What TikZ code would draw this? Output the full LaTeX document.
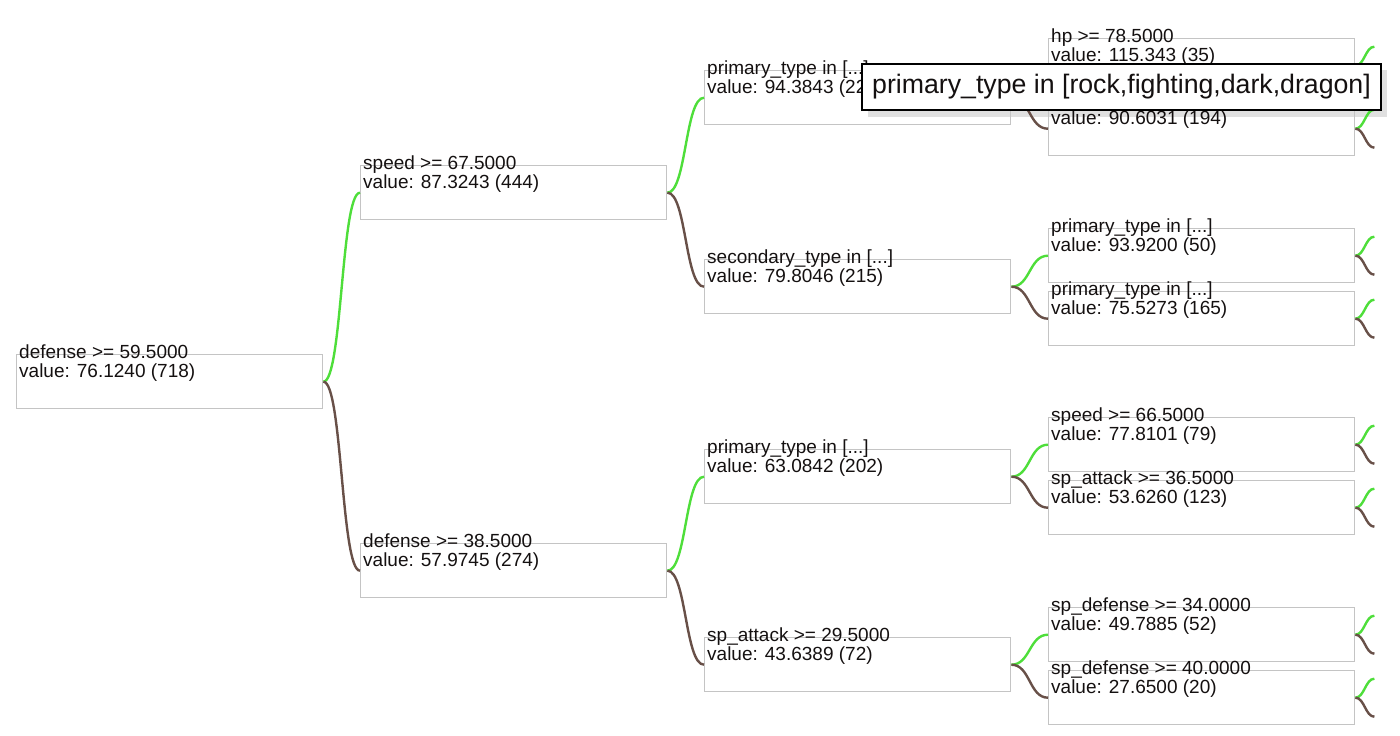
\documentclass[tikz,border=0pt]{standalone}
\usepackage{fontspec}
\setmainfont{Liberation Sans}
\definecolor{linkgreen}{RGB}{78,222,58}
\definecolor{linkbrown}{RGB}{104,80,72}
\definecolor{boxgray}{RGB}{196,196,196}
\definecolor{inkc}{RGB}{20,16,16}
\tikzset{
  box/.style={draw=boxgray, line width=1.4pt, minimum width=306pt, minimum height=54pt, inner sep=0pt, anchor=north west},
  lbl/.style={anchor=base west, inner sep=0pt, text=inkc, font=\fontsize{19pt}{19pt}\selectfont},
  yes/.style={draw=linkgreen, line width=2.4pt},
  no/.style={draw=linkbrown, line width=2.4pt},
  tip/.style={draw=black, line width=2pt, fill=white, minimum width=519pt, minimum height=46pt, inner sep=0pt, anchor=north west, text=inkc, font=\fontsize{26.7pt}{27pt}\selectfont},
}
\newcommand\treebox[5]{%
  \node[box] (#1) at (#2,#3) {};
  \node[lbl] (#1-a) at ([xshift=3pt,yshift=-4pt]#1.north west) {#4};
  \node[lbl] (#1-b) at ([xshift=3pt,yshift=-23pt]#1.north west) {#5};
}
\begin{document}
\begin{tikzpicture}[x=1pt,y=-1pt]
\useasboundingbox (0,0) rectangle (1400,736);
% tooltip shadow (behind everything)
\fill[black!12] (868,70) rectangle (1387,117);
% level 0
\treebox{root}{16}{354}{defense >= 59.5000}{value: 76.1240 (718)}
% level 1
\treebox{s1}{360}{165}{speed >= 67.5000}{value: 87.3243 (444)}
\treebox{s2}{360}{543}{defense >= 38.5000}{value: 57.9745 (274)}
% level 2
\treebox{t1}{704}{70}{primary\_type in [...]}{value: 94.3843 (229)}
\treebox{t2}{704}{259}{secondary\_type in [...]}{value: 79.8046 (215)}
\treebox{t3}{704}{449}{primary\_type in [...]}{value: 63.0842 (202)}
\treebox{t4}{704}{637}{sp\_attack >= 29.5000}{value: 43.6389 (72)}
% level 3
\treebox{u1}{1048}{38}{hp >= 78.5000}{value: 115.343 (35)}
\treebox{u2}{1048}{101}{}{value: 90.6031 (194)}
\treebox{u3}{1048}{228}{primary\_type in [...]}{value: 93.9200 (50)}
\treebox{u4}{1048}{291}{primary\_type in [...]}{value: 75.5273 (165)}
\treebox{u5}{1048}{417}{speed >= 66.5000}{value: 77.8101 (79)}
\treebox{u6}{1048}{480}{sp\_attack >= 36.5000}{value: 53.6260 (123)}
\treebox{u7}{1048}{607}{sp\_defense >= 34.0000}{value: 49.7885 (52)}
\treebox{u8}{1048}{670}{sp\_defense >= 40.0000}{value: 27.6500 (20)}
% links
\draw[yes] (root.east) .. controls +(19,0) and +(-19,0) .. (s1.west);
\draw[no]  (root.east) .. controls +(19,0) and +(-19,0) .. (s2.west);
\draw[yes] (s1.east) .. controls +(19,0) and +(-19,0) .. (t1.west);
\draw[no]  (s1.east) .. controls +(19,0) and +(-19,0) .. (t2.west);
\draw[yes] (s2.east) .. controls +(19,0) and +(-19,0) .. (t3.west);
\draw[no]  (s2.east) .. controls +(19,0) and +(-19,0) .. (t4.west);
\draw[yes] (t1.east) .. controls +(19,0) and +(-19,0) .. (u1.west);
\draw[no]  (t1.east) .. controls +(19,0) and +(-19,0) .. (u2.west);
\draw[yes] (t2.east) .. controls +(19,0) and +(-19,0) .. (u3.west);
\draw[no]  (t2.east) .. controls +(19,0) and +(-19,0) .. (u4.west);
\draw[yes] (t3.east) .. controls +(19,0) and +(-19,0) .. (u5.west);
\draw[no]  (t3.east) .. controls +(19,0) and +(-19,0) .. (u6.west);
\draw[yes] (t4.east) .. controls +(19,0) and +(-19,0) .. (u7.west);
\draw[no]  (t4.east) .. controls +(19,0) and +(-19,0) .. (u8.west);
% stubs to off-picture children
\foreach \n in {u1,u2,u3,u4,u5,u6,u7,u8}{
  \coordinate (\n-y) at ([xshift=19pt,yshift=19pt]\n.east);
  \coordinate (\n-n) at ([xshift=19pt,yshift=-19pt]\n.east);
  \draw[yes] (\n.east) .. controls +(9,0) and +(-9,0) .. (\n-y);
  \draw[no]  (\n.east) .. controls +(9,0) and +(-9,0) .. (\n-n);
}
% tooltip
\node[tip] (tooltip) at (861,63) {primary\_type in [rock,fighting,dark,dragon]};
\end{tikzpicture}
\end{document}
